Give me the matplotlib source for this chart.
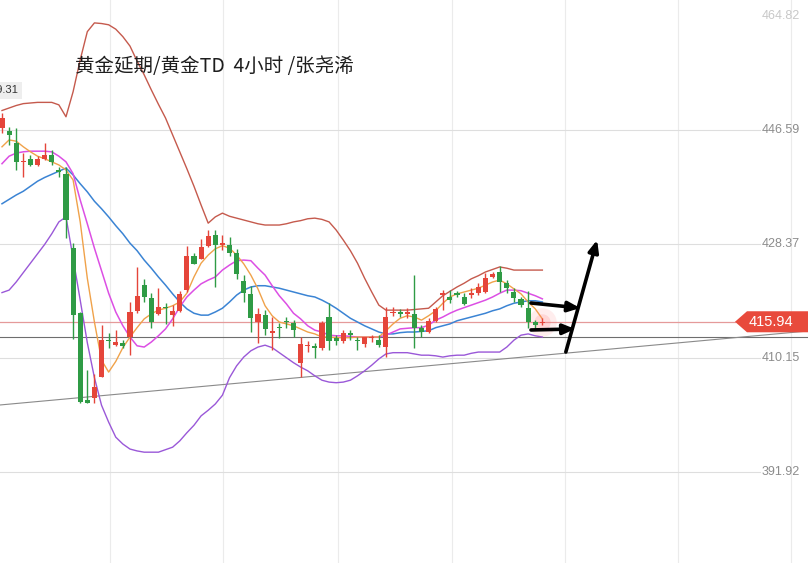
import numpy as np
import matplotlib
matplotlib.use("Agg")
import matplotlib.pyplot as plt
from matplotlib.patches import Polygon
from matplotlib.transforms import blended_transform_factory

plt.rcParams['font.family'] = ['Noto Sans CJK SC', 'DejaVu Sans']

title = "黄金延期/黄金TD  4小时 /张尧浠"

# 4h candles
opens = [446.91, 446.43, 444.51, 441.47, 441.95, 440.99, 441.95, 442.59, 440.20, 439.55,
         427.73, 417.34, 403.44, 403.76, 407.11, 413.03, 412.23, 412.55, 413.51, 417.66,
         421.82, 419.74, 417.18, 418.30, 417.02, 417.66, 421.02, 426.45, 425.97, 428.05,
         429.81, 428.21, 428.21, 426.93, 422.46, 420.38, 415.90, 417.02, 414.15, 415.11,
         416.06, 415.74, 409.35, 412.07, 412.07, 411.75, 416.70, 413.35, 412.87, 414.15,
         413.03, 412.39, 413.35, 413.03, 411.91, 417.34, 417.50, 417.18, 417.18, 414.94,
         414.31, 416.06, 420.22, 419.90, 420.54, 419.90, 420.22, 420.54, 420.70, 423.10,
         423.89, 422.14, 420.70, 419.58, 418.14, 415.90, 415.74]
highs = [449.31, 447.07, 446.91, 442.91, 442.59, 442.43, 444.51, 443.39, 440.67, 440.67,
         428.53, 417.50, 408.23, 407.59, 415.42, 414.15, 414.63, 413.03, 419.10, 424.69,
         422.78, 420.54, 421.34, 418.94, 418.62, 420.86, 428.05, 426.93, 429.17, 430.61,
         430.61, 429.81, 429.49, 427.57, 423.42, 421.66, 418.14, 417.82, 416.70, 415.74,
         416.70, 416.22, 413.51, 412.87, 412.55, 416.06, 418.94, 413.83, 414.63, 414.63,
         413.51, 413.51, 413.83, 413.83, 418.30, 418.30, 418.06, 418.14, 423.42, 415.42,
         416.54, 418.30, 421.02, 421.02, 420.86, 420.54, 421.34, 422.14, 423.73, 423.89,
         424.85, 422.62, 421.34, 419.90, 420.86, 416.22, 416.54]
lows = [446.11, 444.19, 440.20, 439.08, 440.83, 440.83, 441.79, 440.99, 439.08, 429.33,
        413.19, 402.96, 402.96, 402.96, 407.11, 411.75, 412.07, 411.75, 410.63, 417.34,
        419.10, 414.94, 417.02, 415.58, 415.26, 417.50, 420.70, 425.17, 425.97, 427.89,
        421.50, 427.41, 426.45, 422.78, 419.10, 414.31, 412.55, 413.83, 411.43, 413.35,
        414.94, 413.51, 407.11, 411.11, 410.15, 411.43, 411.43, 412.23, 412.55, 413.03,
        411.43, 411.91, 412.71, 411.91, 410.31, 416.86, 416.70, 416.54, 411.75, 413.51,
        414.15, 415.90, 417.82, 418.94, 419.90, 418.62, 419.74, 420.22, 420.54, 422.94,
        420.70, 420.54, 419.10, 418.30, 414.94, 414.63, 415.42]
closes = [448.50, 445.79, 441.47, 441.63, 440.99, 441.95, 442.59, 441.47, 439.87, 432.20,
          417.02, 403.12, 402.96, 405.52, 413.03, 412.79, 412.71, 412.07, 417.50, 420.06,
          419.90, 415.90, 418.30, 418.14, 417.66, 420.38, 426.45, 425.17, 427.89, 429.65,
          428.21, 428.53, 426.93, 423.57, 420.54, 416.54, 417.18, 414.79, 414.47, 414.94,
          415.90, 414.63, 412.39, 412.23, 411.75, 415.74, 412.87, 412.87, 414.15, 413.83,
          412.87, 413.51, 413.51, 412.23, 416.70, 417.50, 417.18, 417.50, 414.94, 414.31,
          416.06, 418.06, 420.54, 419.42, 420.22, 418.78, 420.54, 421.50, 422.94, 423.57,
          422.30, 421.34, 419.74, 418.62, 415.90, 415.42, 415.94]

# indicator lines, one value per candle
ma5 = [443.9, 445.0, 444.8, 443.9, 443.1, 442.4, 442.0, 441.5, 441.0, 440.2,
       438.6, 431.9, 422.9, 415.9, 409.8, 407.9, 409.6, 411.8, 413.5, 415.0,
       416.4, 417.2, 417.8, 418.1, 418.5, 419.1, 420.5, 423.1, 425.3, 426.6,
       427.6, 428.1, 427.7, 426.6, 425.2, 423.4, 421.2, 418.5, 416.9, 415.9,
       415.6, 415.3, 414.8, 414.3, 414.0, 413.5, 413.5, 413.4, 413.4, 413.4,
       413.5, 413.5, 413.5, 413.5, 414.5, 415.6, 416.5, 416.9, 416.7, 416.2,
       416.9, 417.7, 418.9, 419.9, 420.4, 420.7, 421.0, 421.3, 421.8, 422.3,
       422.6, 422.0, 421.2, 420.4, 419.1, 418.0, 416.4]
ma10 = [441.2, 442.4, 442.9, 443.1, 443.2, 443.2, 443.2, 443.1, 442.4, 441.5,
        439.6, 435.4, 431.6, 427.7, 424.1, 420.5, 417.5, 415.3, 413.5, 412.1,
        411.9, 412.7, 413.7, 414.8, 416.4, 418.3, 419.9, 421.0, 422.0, 422.6,
        423.1, 424.2, 425.0, 425.7, 425.8, 425.7, 424.5, 423.4, 421.7, 420.1,
        418.8, 417.3, 416.4, 415.3, 414.6, 414.3, 413.8, 413.7, 413.7, 413.6,
        413.5, 413.5, 413.5, 413.5, 413.8, 414.3, 414.8, 414.9, 415.0, 415.0,
        415.4, 416.2, 416.7, 417.3, 417.8, 418.2, 418.6, 419.0, 419.4, 419.9,
        420.5, 421.0, 421.0, 420.9, 420.5, 420.1, 419.6]
boll_mid = [434.8, 435.5, 436.2, 436.8, 437.6, 438.4, 439.0, 439.5, 440.0, 440.5,
            439.4, 438.0, 436.7, 435.2, 434.0, 432.7, 431.3, 430.0, 428.5, 427.3,
            425.8, 424.5, 423.1, 421.8, 420.4, 419.1, 418.0, 417.3, 417.0, 417.0,
            417.5, 418.1, 419.1, 420.2, 421.0, 421.5, 421.7, 421.7, 421.5, 421.3,
            421.0, 420.7, 420.4, 420.1, 419.9, 419.4, 418.8, 418.1, 417.3, 416.5,
            415.9, 415.3, 414.8, 414.3, 414.0, 414.0, 414.2, 414.3, 414.3, 414.4,
            414.5, 415.0, 415.3, 415.6, 416.1, 416.4, 416.7, 417.0, 417.3, 417.7,
            418.0, 418.5, 418.9, 419.1, 419.3, 419.3, 419.1]
boll_up = [449.7, 450.1, 450.5, 450.8, 450.9, 451.0, 451.0, 451.0, 450.6, 448.7,
           452.7, 457.8, 462.3, 463.7, 463.6, 463.4, 462.7, 461.5, 460.0, 457.6,
           455.4, 453.0, 450.7, 448.5, 445.8, 443.1, 440.4, 437.6, 434.6, 431.7,
           432.7, 433.3, 432.8, 432.5, 432.2, 431.9, 431.6, 431.4, 431.4, 431.4,
           431.6, 431.9, 432.1, 432.4, 432.5, 432.3, 431.9, 430.6, 429.0, 427.3,
           425.3, 422.9, 420.7, 418.6, 417.8, 417.8, 417.8, 417.8, 417.9, 418.0,
           418.1, 419.1, 420.1, 420.8, 421.5, 422.1, 422.8, 423.3, 423.9, 424.3,
           424.7, 424.5, 424.2, 424.2, 424.2, 424.2, 424.2]
boll_low = [420.6, 421.0, 422.3, 423.8, 425.3, 426.8, 428.3, 430.0, 431.9, 432.7,
            426.1, 419.4, 412.6, 407.0, 402.6, 399.9, 397.5, 396.4, 395.6, 395.3,
            395.1, 395.1, 395.1, 395.5, 395.9, 396.9, 398.2, 399.4, 400.9, 401.8,
            402.8, 404.2, 407.0, 408.9, 410.3, 411.3, 411.9, 412.2, 411.8, 411.0,
            410.2, 409.4, 408.7, 408.1, 407.3, 406.6, 406.3, 406.2, 406.3, 406.6,
            407.3, 408.1, 409.0, 410.0, 410.8, 411.0, 411.0, 411.0, 410.8, 410.6,
            410.6, 410.5, 410.3, 410.5, 410.6, 410.6, 410.9, 411.1, 411.1, 411.1,
            411.1, 411.9, 413.0, 413.8, 414.0, 413.7, 413.5]

grid_prices = [446.59, 428.37, 410.15, 391.92]
top_price = 464.82
last_price = 415.94
support = 413.51
high_label = "449.31"
trend_x = [-0.3, 113.4]
trend_y = [402.64, 414.47]
arrows = [((74.4, 418.94), (81.3, 418.14)),
          ((74.4, 414.63), (80.6, 414.79)),
          ((79.3, 411.11), (83.7, 429.01))]
time_grid = [15.2, 31.1, 47.3, 63.3, 79.2, 95.1, 111.0]

fig = plt.figure(figsize=(8.08, 5.63), dpi=100)
ax = fig.add_axes([0, 0, 1, 1])
ax.set_xlim(-0.28, 113.36)
ax.set_ylim(377.39, 467.36)
ax.axis('off')
xa_yd = blended_transform_factory(ax.transAxes, ax.transData)

# grid
for t in time_grid:
    ax.axvline(t, color='#ebebeb', lw=0.8, zorder=0)
for p in grid_prices:
    ax.axhline(p, xmax=0.94, color='#dedede', lw=0.8, zorder=0)
    ax.text(0.99, p, f"{p:.2f}", transform=xa_yd, ha='right', va='center',
            fontsize=9, color='#8c8c8c', family='Liberation Sans')
ax.text(0.99, top_price, f"{top_price:.2f}", transform=xa_yd, ha='right', va='center',
        fontsize=9, color='#c8c8c8', family='Liberation Sans')

ax.axhline(support, color='#6e6e6e', lw=0.8, zorder=1)
ax.axhline(last_price, xmax=735 / 808, color='#e59a9a', lw=0.9, zorder=1)
ax.plot(trend_x, trend_y, color='#8a8a8a', lw=0.8, zorder=1)

idx = np.arange(len(opens))
ax.plot(idx, boll_up, color='#c55a4d', lw=1.0, zorder=2)
ax.plot(idx, boll_low, color='#9a58d8', lw=1.0, zorder=2)
ax.plot(idx, boll_mid, color='#3b84d4', lw=1.1, zorder=2)
ax.plot(idx, ma10, color='#dc4fe4', lw=1.1, zorder=2)
ax.plot(idx, ma5, color='#f0a24a', lw=1.0, zorder=2)

# candles
o = np.array(opens)
c = np.array(closes)
colors = np.where(c >= o, '#e5453a', '#2f9b45')
ax.vlines(idx, lows, highs, colors=colors, lw=1, zorder=4)
ax.bar(idx, np.maximum(np.abs(c - o), 0.2), bottom=np.minimum(o, c), width=0.72,
       color=colors, lw=0, zorder=5)

# glow on last candle
ax.scatter([idx[-1]], [last_price], s=420, color='#ff7070', alpha=0.12, lw=0, zorder=3)
ax.scatter([idx[-1]], [last_price], s=140, color='#ff7070', alpha=0.18, lw=0, zorder=3)

for s, e in arrows:
    ax.annotate('', xy=e, xytext=s,
                arrowprops=dict(arrowstyle='-|>,head_length=0.7,head_width=0.3',
                                color='black', lw=2.6, shrinkA=0, shrinkB=0), zorder=6)

# price tag on the right
h = 1.68
tag = Polygon([(735 / 808, last_price), (747 / 808, last_price + h), (1, last_price + h),
               (1, last_price - h), (747 / 808, last_price - h)],
              closed=True, transform=xa_yd, facecolor='#e84a3c', edgecolor='none', zorder=7)
ax.add_patch(tag)
ax.text(771 / 808, last_price, f"{last_price:.2f}", transform=xa_yd, ha='center', va='center',
        fontsize=10.5, color='white', family='Liberation Sans', zorder=8)

# high marker, cut by the left edge as in the source screenshot
ax.text(19 / 808, 452.9, high_label, transform=xa_yd, ha='right', va='center',
        fontsize=8, color='#333333', family='Liberation Sans',
        bbox=dict(boxstyle='square,pad=0.3', fc='#eeeeee', ec='none'))

ax.text(0.093, 0.881, title, transform=ax.transAxes, ha='left', va='center',
        fontsize=14, color='#1e1e1e')

fig.savefig('out.png', dpi=100)
